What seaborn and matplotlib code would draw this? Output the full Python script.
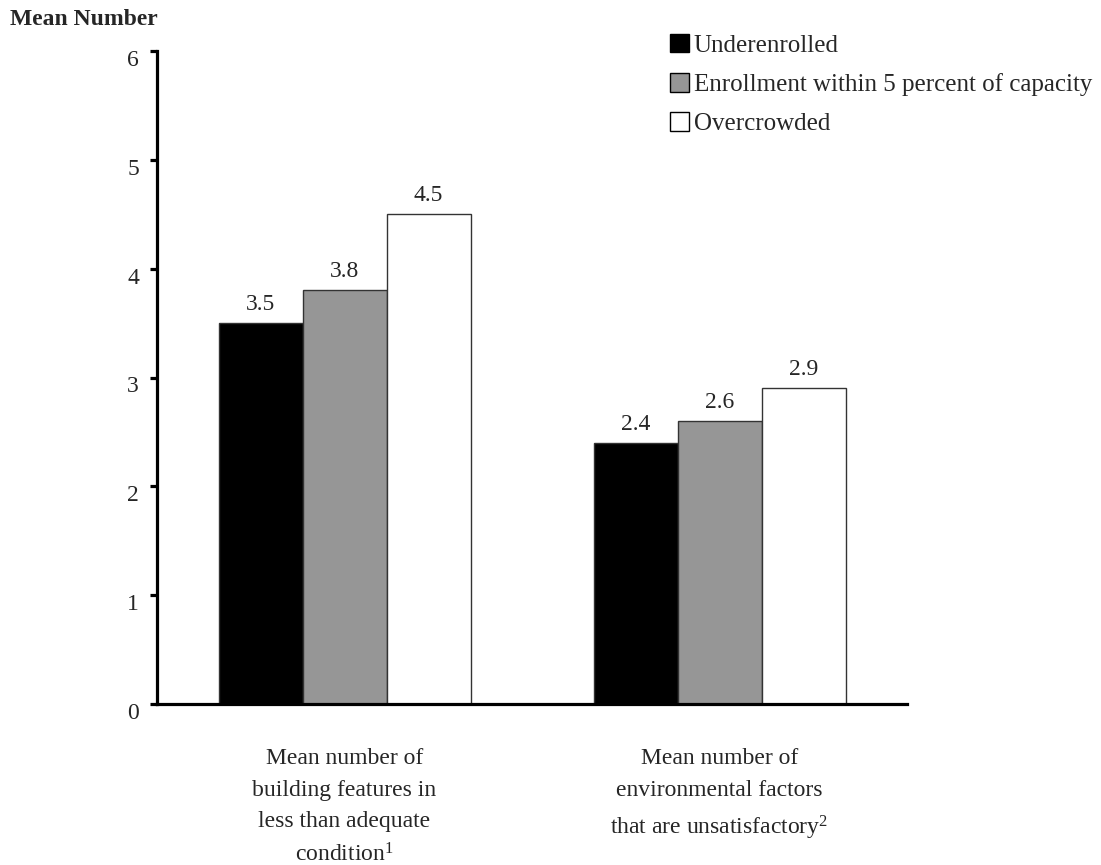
import matplotlib
matplotlib.use('Agg')
import matplotlib.pyplot as plt
import matplotlib.transforms as mtransforms
import seaborn as sns
import pandas as pd

# chart values
categories = [
    "Mean number of\nbuilding features in\nless than adequate\ncondition$^{1}$",
    "Mean number of\nenvironmental factors\nthat are unsatisfactory$^{2}$",
]
groups = ["Underenrolled", "Enrollment within 5 percent of capacity", "Overcrowded"]
underenrolled = [3.5, 2.4]
within_capacity = [3.8, 2.6]
overcrowded = [4.5, 2.9]
y_ticks = [0, 1, 2, 3, 4, 5, 6]

colors = ["black", "#969696", "white"]

sns.set_style("white")
plt.rcParams['font.family'] = ['Liberation Serif', 'DejaVu Serif']
plt.rcParams['mathtext.fontset'] = 'custom'
plt.rcParams['mathtext.rm'] = 'Liberation Serif'
plt.rcParams['mathtext.it'] = 'Liberation Serif:italic'
plt.rcParams['mathtext.bf'] = 'Liberation Serif:bold'

rows = []
for g, vals in zip(groups, [underenrolled, within_capacity, overcrowded]):
    for c, v in zip(categories, vals):
        rows.append({"Category": c, "Group": g, "Value": v})
df = pd.DataFrame(rows)

W, H = 1101, 865
fig = plt.figure(figsize=(W / 100, H / 100), dpi=100)
ax = fig.add_axes([157 / W, (H - 704) / H, 750 / W, 653 / H])

sns.barplot(data=df, x="Category", y="Value", hue="Group", palette=colors,
            width=0.672, gap=0, edgecolor="#333333", linewidth=1,
            saturation=1, ax=ax)

ax.set_xlim(-0.5, 1.5)
ax.set_ylim(0, 6)
ax.set_yticks(y_ticks)
ax.set_xticks(range(len(categories)), categories, linespacing=1.63)
ax.set_xlabel("")
ax.set_ylabel("")

for side in ["top", "right"]:
    ax.spines[side].set_visible(False)
for side in ["left", "bottom"]:
    ax.spines[side].set_linewidth(2.3)
    ax.spines[side].set_color("black")

ax.tick_params(axis='y', direction='out', length=5, width=2.3, color='black',
               pad=8, labelsize=17, left=True)
ax.tick_params(axis='x', length=0, pad=32, labelsize=17)

# y labels sit a little below their ticks in the original
shift = mtransforms.ScaledTranslation(0, -7 / 100, fig.dpi_scale_trans)
for lab in ax.get_yticklabels():
    lab.set_transform(lab.get_transform() + shift)

# value labels above bars
for cont in ax.containers:
    for bar in cont:
        h = bar.get_height()
        ax.annotate(f"{h:.1f}", (bar.get_x() + bar.get_width() / 2, h),
                    xytext=(0, 9.4), textcoords='offset points',
                    ha='center', va='baseline', fontsize=17)

handles, labels = ax.get_legend_handles_labels()
ax.get_legend().remove()
for hd in handles:
    hd.set_edgecolor("black")
    hd.set_linewidth(1)
fig.legend(handles, labels, loc='upper left',
           bbox_to_anchor=(670 / W, 1 - 34 / H), frameon=False,
           fontsize=18, handlelength=0.75, handleheight=0.75,
           handletextpad=0.2, labelspacing=0.65, borderpad=0, borderaxespad=0)

fig.text(10 / W, 1 - 25 / H, "Mean Number", fontsize=17, fontweight='bold',
         ha='left', va='baseline')

fig.savefig("out.png", dpi=100)
